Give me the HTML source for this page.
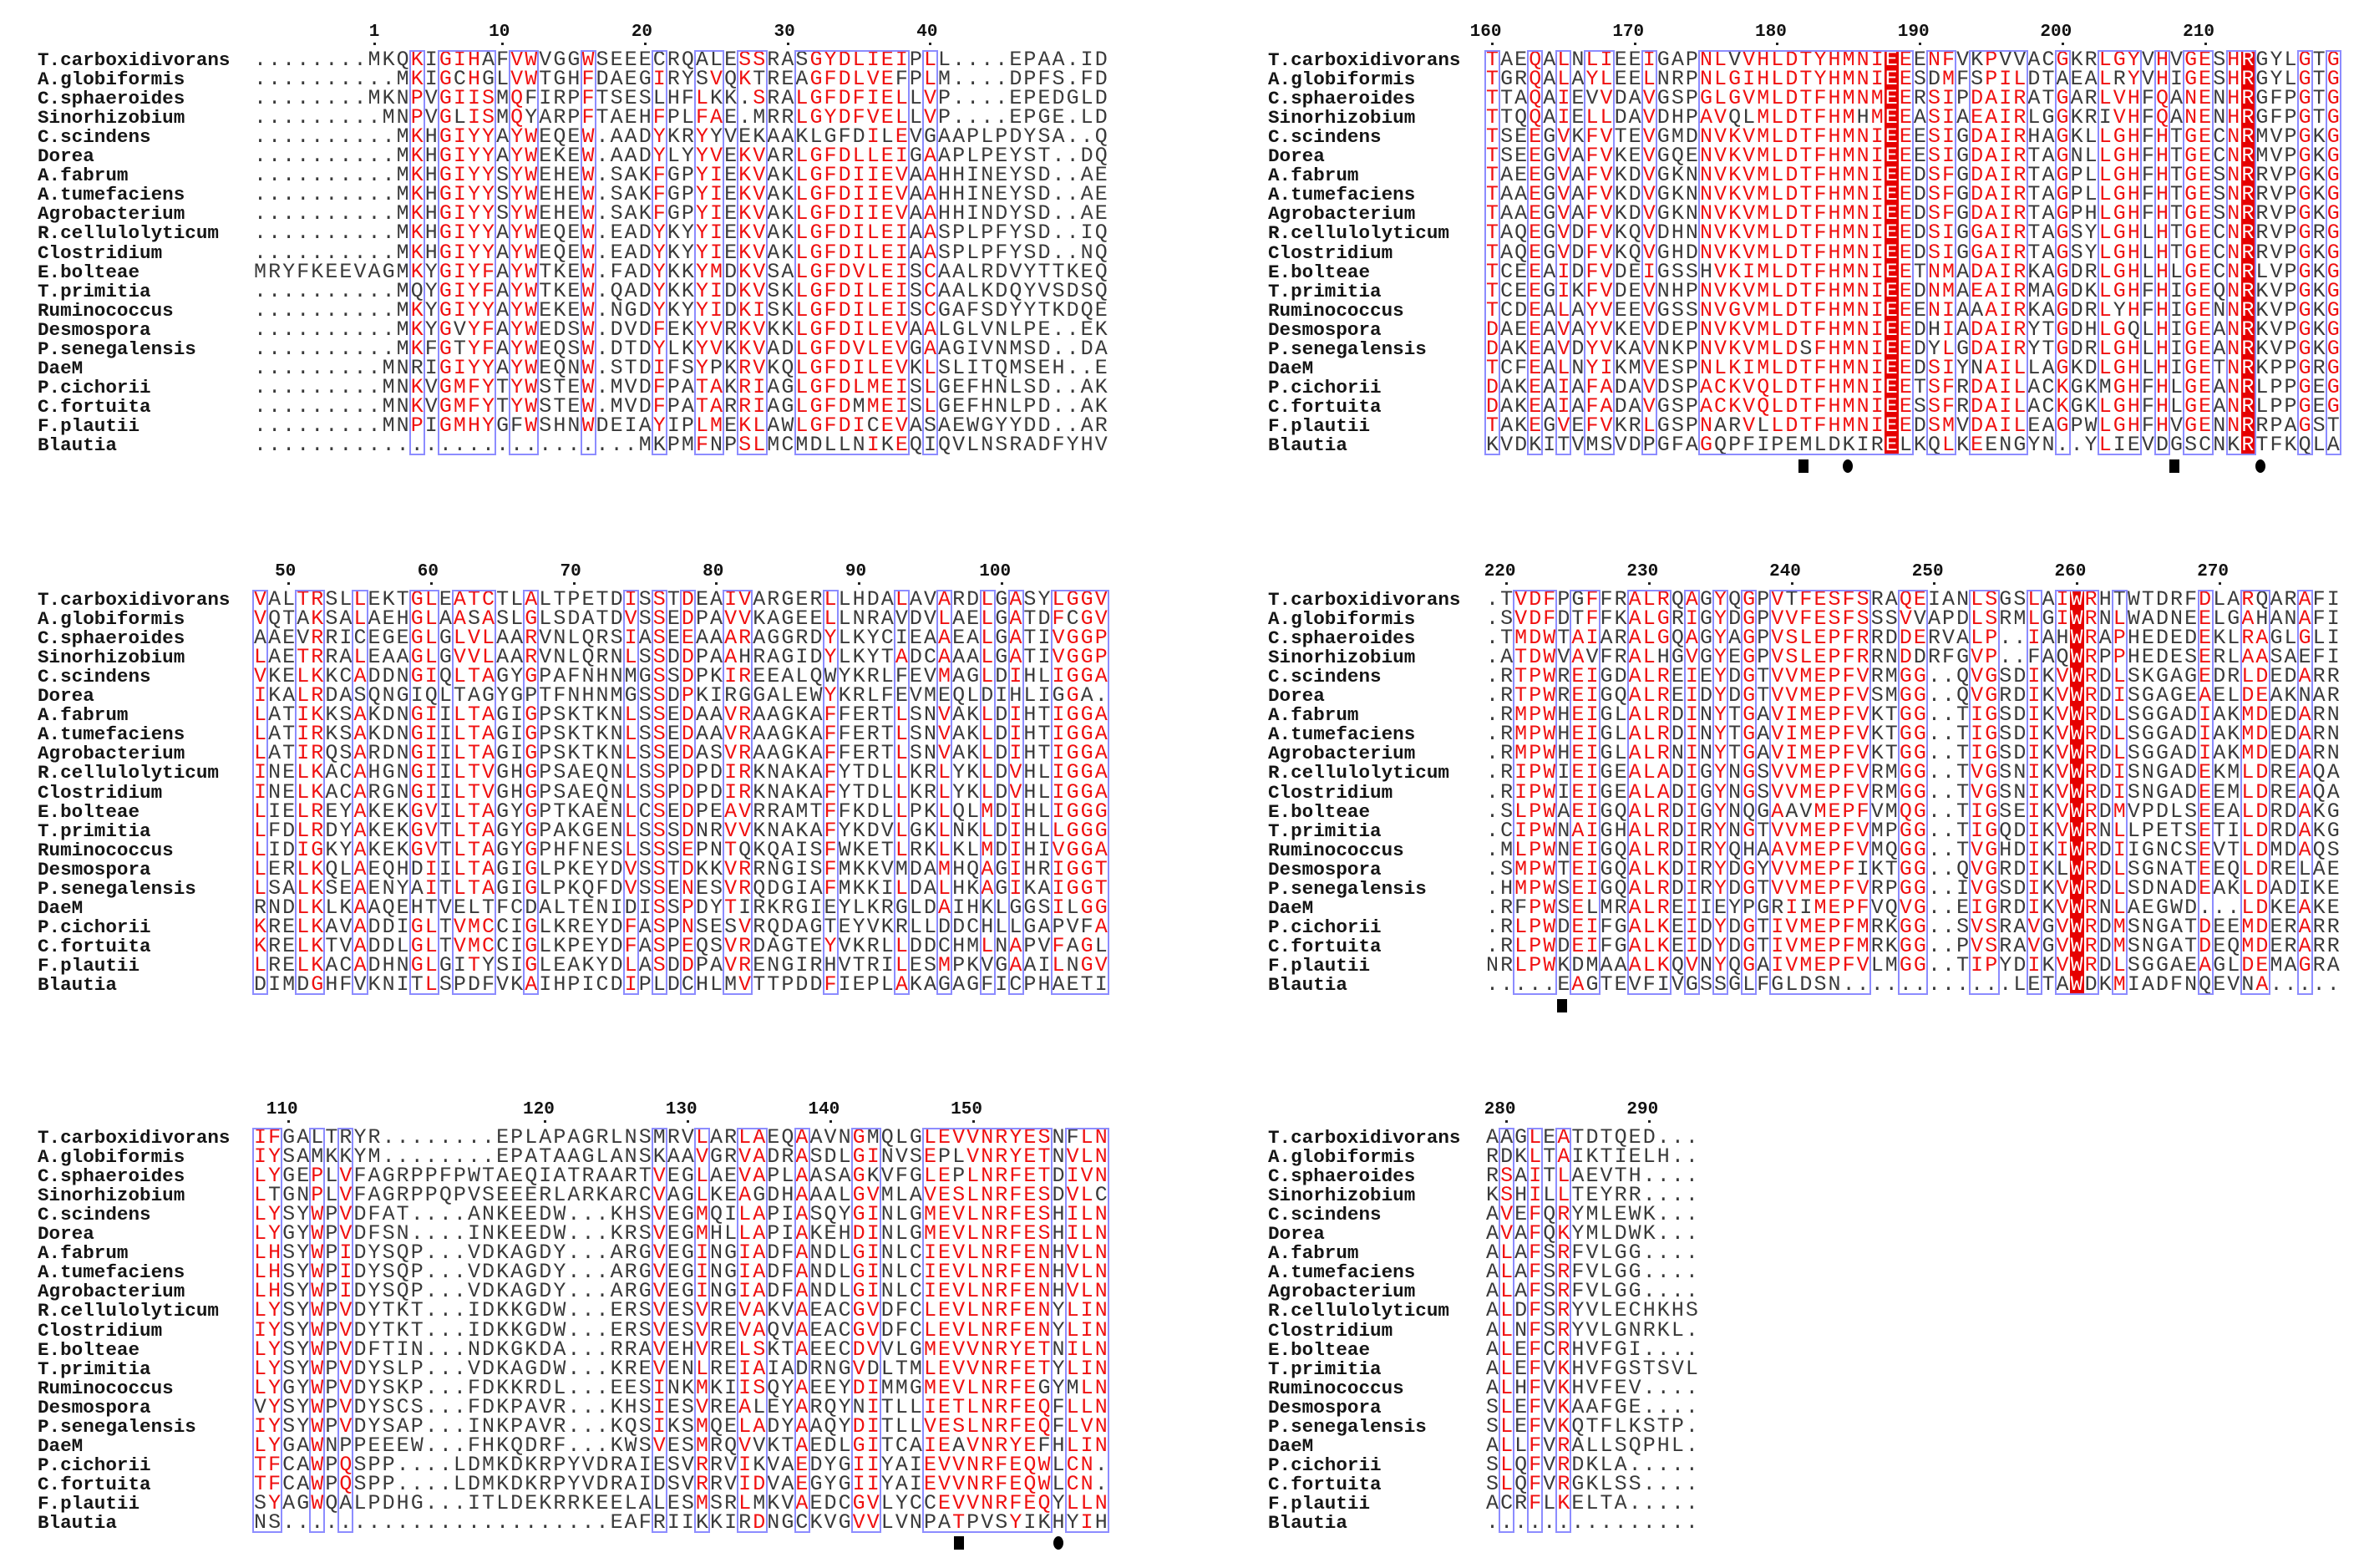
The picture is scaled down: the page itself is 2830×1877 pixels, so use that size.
<!DOCTYPE html>
<html><head><meta charset="utf-8">
<style>
html,body{margin:0;padding:0;background:#fff;}
#root{position:relative;width:2830px;height:1877px;overflow:hidden;background:#fff;}
.nm{position:absolute;font-family:"Liberation Mono",monospace;font-weight:bold;font-size:22.6px;line-height:24px;color:#151515;white-space:pre;}
.sq{position:absolute;font-family:"Liberation Mono",monospace;font-size:25px;line-height:24px;white-space:pre;color:#3a3a3a;}
.sq span{display:inline-block;width:17.07px;text-align:center;}
.rl{position:absolute;font-family:"Liberation Mono",monospace;font-weight:bold;font-size:21px;line-height:22px;color:#111;}
.box{position:absolute;border:2px solid #8c8cff;box-sizing:border-box;}
.fill{position:absolute;background:#e60000;}
.mk{position:absolute;background:#000;}
</style></head>
<body>
<div id="root"></div>
<script>
const names=["T.carboxidivorans","A.globiformis","C.sphaeroides","Sinorhizobium","C.scindens","Dorea","A.fabrum","A.tumefaciens","Agrobacterium","R.cellulolyticum","Clostridium","E.bolteae","T.primitia","Ruminococcus","Desmospora","P.senegalensis","DaeM","P.cichorii","C.fortuita","F.plautii","Blautia"];

const seqBlock1=[
"........MKQKIGIHAFVWVGGWSEEECRQALESSRASGYDLIEIPLL....EPAA.ID",
"..........MKIGCHGLVWTGHFDAEGIRYSVQKTREAGFDLVEFPLM....DPFS.FD",
"........MKNPVGIISMQFIRPFTSESLHFLKK.SRALGFDFIELLVP....EPEDGLD",
".........MNPVGLISMQYARPFTAEHFPLFAE.MRRLGYDFVELLVP....EPGE.LD",
"..........MKHGIYYAYWEQEW.AADYKRYYVEKAAKLGFDILEVGAAPLPDYSA..QE",
"..........MKHGIYYAYWEKEW.AADYLYYVEKVARLGFDLLEIGAAPLPEYST..DQ",
"..........MKHGIYYSYWEHEW.SAKFGPYIEKVAKLGFDIIEVAAHHINEYSD..AE",
"..........MKHGIYYSYWEHEW.SAKFGPYIEKVAKLGFDIIEVAAHHINEYSD..AE",
"..........MKHGIYYSYWEHEW.SAKFGPYIEKVAKLGFDIIEVAAHHINDYSD..AE",
"..........MKHGIYYAYWEQEW.EADYKYYIEKVAKLGFDILEIAASPLPFYSD..IQ",
"..........MKHGIYYAYWEQEW.EADYKYYIEKVAKLGFDILEIAASPLPFYSD..NQ",
"MRYFKEEVAGMKYGIYFAYWTKEW.FADYKKYMDKVSALGFDVLEISCAALRDVYTTKEQ",
"..........MQYGIYFAYWTKEW.QADYKKYIDKVSKLGFDILEISCAALKDQYVSDSQ",
"..........MKYGIYYAYWEKEW.NGDYKYYIDKISKLGFDILEISCGAFSDYYTKDQE",
"..........MKYGVYFAYWEDSW.DVDFEKYVRKVKKLGFDILEVAALGLVNLPE..EK",
"..........MKFGTYFAYWEQSW.DTDYLKYVKKVADLGFDVLEVGAAGIVNMSD..DA",
".........MNRIGIYYAYWEQNW.STDIFSYPKRVKQLGFDILEVKLSLITQMSEH..E",
".........MNKVGMFYTYWSTEW.MVDFPATAKRIAGLGFDLMEISLGEFHNLSD..AK",
".........MNKVGMFYTYWSTEW.MVDFPATARRIAGLGFDMMEISLGEFHNLPD..AK",
".........MNPIGMHYGFWSHNWDEIAYIPLMEKLAWLGFDICEVASAEWGYYDD..AR",
"...........................MKPMFNPSLMCMDLLNIKEQIQVLNSRADFYHV"];

const seqBlock2=[
"TAEQALNLIEEIGAPNLVVHLDTYHMNIEEENFVKPVVACGKRLGYVHVGESHRGYLGTG",
"TGRQALAYLEELNRPNLGIHLDTYHMNIEESDMFSPILDTAEALRYVHIGESHRGYLGTG",
"TTAQAIEVVDAVGSPGLGVMLDTFHMNMEERSIPDAIRATGARLVHFQANENHRGFPGTG",
"TTQQAIELLDAVDHPAVQLMLDTFHMHMEEASIAEAIRLGGKRIVHFQANENHRGFPGTG",
"TSEEGVKFVTEVGMDNVKVMLDTFHMNIEEESIGDAIRHAGKLLGHFHTGECNRMVPGKG",
"TSEEGVAFVKEVGQENVKVMLDTFHMNIEEESIGDAIRTAGNLLGHFHTGECNRMVPGKG",
"TAEEGVAFVKDVGKNNVKVMLDTFHMNIEEDSFGDAIRTAGPLLGHFHTGESNRRVPGKG",
"TAAEGVAFVKDVGKNNVKVMLDTFHMNIEEDSFGDAIRTAGPLLGHFHTGESNRRVPGKG",
"TAAEGVAFVKDVGKNNVKVMLDTFHMNIEEDSFGDAIRTAGPHLGHFHTGESNRRVPGKG",
"TAQEGVDFVKQVDHNNVKVMLDTFHMNIEEDSIGGAIRTAGSYLGHLHTGECNRRVPGRG",
"TAQEGVDFVKQVGHDNVKVMLDTFHMNIEEDSIGGAIRTAGSYLGHLHTGECNRRVPGKG",
"TCEEAIDFVDEIGSSHVKIMLDTFHMNIEETNMADAIRKAGDRLGHLHLGECNRLVPGKG",
"TCEEGIKFVDEVNHPNVKVMLDTFHMNIEEDNMAEAIRMAGDKLGHFHIGEQNRKVPGKG",
"TCDEALAYVEEVGSSNVGVMLDTFHMNIEEENIAAAIRKAGDRLYHFHIGENNRKVPGKG",
"DAEEAVAYVKEVDEPNVKVMLDTFHMNIEEDHIADAIRYTGDHLGQLHIGEANRKVPGKG",
"DAKEAVDYVKAVNKPNVKVMLDSFHMNIEEDYLGDAIRYTGDRLGHLHIGEANRKVPGKG",
"TCFEALNYIKMVESPNLKIMLDTFHMNIEEDSIYNAILLAGKDLGHLHIGETNRKPPGRG",
"DAKEAIAFADAVDSPACKVQLDTFHMNIEETSFRDAILACKGKMGHFHLGEANRLPPGEG",
"DAKEAIAFADAVGSPACKVQLDTFHMNIEESSFRDAILACKGKLGHFHLGEANRLPPGEG",
"TAKEGVEFVKRLGSPNARVLLDTFHMNIEEDSMVDAILEAGPWLGHFHVGENNRRPAGST",
"KVDKITVMSVDPGFAGQPFIPEMLDKIRELKQLKEENGYN..YLIEVDGSCNKRTFKQLA"];

const seqBlock3=[
"VALTRSLLEKTGLEATCTLALTPETDISSTDEAIVARGERLLHDALAVARDLGASYLGGV",
"VQTAKSALAEHGLAASASLGLSDATDVSSEDPAVVKAGEELLNRAVDVLAELGATDFCGV",
"AAEVRRICEGEGLGLVLAARVNLQRSIASEEAAARAGGRDYLKYCIEAAEALGATIVGGP",
"LAETRRALEAAGLGVVLAARVNLQRNLSSDDPAAHRAGIDYLKYTADCAAALGATIVGGP",
"VKELKKCADDNGIQLTAGYGPAFNHNMGSSDPKIREEALQWYKRLFEVMAGLDIHLIGGA",
"IKALRDASQNGIQLTAGYGPTFNHNMGSSDPKIRGGALEWYKRLFEVMEQLDIHLIGGA.",
"LATIKKSAKDNGIILTAGIGPSKTKNLSSEDAAVRAAGKAFFERTLSNVAKLDIHTIGGA",
"LATIRKSAKDNGIILTAGIGPSKTKNLSSEDAAVRAAGKAFFERTLSNVAKLDIHTIGGA",
"LATIRQSARDNGIILTAGIGPSKTKNLSSEDASVRAAGKAFFERTLSNVAKLDIHTIGGA",
"INELKACAHGNGIILTVGHGPSAEQNLSSPDPDIRKNAKAFYTDLLKRLYKLDVHLIGGA",
"INELKACARGNGIILTVGHGPSAEQNLSSPDPDIRKNAKAFYTDLLKRLYKLDVHLIGGA",
"LIELREYAKEKGVILTAGYGPTKAENLCSEDPEAVRRAMTFFKDLLPKLQLMDIHLIGGG",
"LFDLRDYAKEKGVTLTAGYGPAKGENLSSSDNRVVKNAKAFYKDVLGKLNKLDIHLLGGG",
"LIDIGKYAKEKGVTLTAGYGPHFNESLSSSEPNTQKQAISFWKETLRKLKLMDIHIVGGA",
"LERLKQLAEQHDIILTAGIGLPKEYDVSSTDKKVRRNGISFMKKVMDAMHQAGIHRIGGT",
"LSALKSEAENYAITLTAGIGLPKQFDVSSENESVRQDGIAFMKKILDALHKAGIKAIGGT",
"RNDLKLKAAQEHTVELTFCDALTENIDISSPDYTIRKRGIEYLKRGLDAIHKLGGSILGGV",
"KRELKAVADDIGLTVMCCIGLKREYDFASPNSESVRQDAGTEYVKRLLDDCHLLGAPVFAGL",
"KRELKTVADDLGLTVMCCIGLKPEYDFASPEQSVRDAGTEYVKRLLDDCHMLNAPVFAGL",
"LRELKACADHNGLGITYSIGLEAKYDLASDDPAVRENGIRHVTRILESMPKVGAAILNGV",
"DIMDGHFVKNITLSPDFVKAIHPICDIPLDCHLMVTTPDDFIEPLAKAGAGFICPHAETI"];

const seqBlock4=[
".TVDFPGFFRALRQAGYQGPVTFESFSRAQEIANLSGSLAIWRHTWTDRFDLARQARAFI",
".SVDFDTFFKALGRIGYDGPVVFESFSSSVVAPDLSRMLGIWRNLWADNEELGAHANAFI",
".TMDWTAIARALGQAGYAGPVSLEPFRRDDERVALP..IAHWRAPHEDEDEKLRAGLGLI",
".ATDWVAVFRALHGVGYEGPVSLEPFRRNDDRFGVP..FAQWRPPHEDESERLAASAEFI",
".RTPWREIGDALREIEYDGTVVMEPFVRMGG..QVGSDIKVWRDLSKGAGEDRLDEDARR",
".RTPWREIGQALREIDYDGTVVMEPFVSMGG..QVGRDIKVWRDISGAGEAELDEAKNAR",
".RMPWHEIGLALRDINYTGAVIMEPFVKTGG..TIGSDIKVWRDLSGGADIAKMDEDARN",
".RMPWHEIGLALRDINYTGAVIMEPFVKTGG..TIGSDIKVWRDLSGGADIAKMDEDARN",
".RMPWHEIGLALRNINYTGAVIMEPFVKTGG..TIGSDIKVWRDLSGGADIAKMDEDARN",
".RIPWIEIGEALADIGYNGSVVMEPFVRMGG..TVGSNIKVWRDISNGADEKMLDREAQA",
".RIPWIEIGEALADIGYNGSVVMEPFVRMGG..TVGSNIKVWRDISNGADEEMLDREAQA",
".SLPWAEIGQALRDIGYNQGAAVMEPFVMQG..TIGSEIKVWRDMVPDLSEEALDRDAKG",
".CIPWNAIGHALRDIRYNGTVVMEPFVMPGG..TIGQDIKVWRNLLPETSETILDRDAKG",
".MLPWNEIGQALRDIRYQHAAVMEPFVMQGG..TVGHDIKIWRDIIGNCSEVTLDMDAQS",
".SMPWTEIGQALKDIRYDGYVVMEPFIKTGG..QVGRDIKLWRDLSGNATEEQLDRELAE",
".HMPWSEIGQALRDIRYDGTVVMEPFVRPGG..IVGSDIKVWRDLSDNADEAKLDADIKE",
".RFPWSELMRALREIIEYPGRIIMEPFVQVG..EIGRDIKVWRNLAEGWD...LDKEAKE",
".RLPWDEIFGALKEIDYDGTIVMEPFMRKGG..SVSRAVGVWRDMSNGATDEEMDERARR",
".RLPWDEIFGALKEIDYDGTIVMEPFMRKGG..PVSRAVGVWRDMSNGATDEQMDERARR",
"NRLPWKDMAAALKQVNYQGAIVMEPFVLMGG..TIPYDIKVWRDLSGGAEAGLDEMAGRA",
".....EAGTEVFIVGSSGLFGLDSN............LETAWDKMIADFNQEVNA....."];

const seqBlock5=[
"IFGALTRYR........EPLAPAGRLNSMRVLARLAEQAAVNGMQLGLEVVNRYESNFLN",
"IYSAMKKYM........EPATAAGLANSKAAVGRVADRASDLGINVSEPLVNRYETNVLN",
"LYGEPLVFAGRPPFPWTAEQIATRAARTVEGLAEVAPLAASAGKVFGLEPLNRFETDIVN",
"LTGNPLVFAGRPPQPVSEEERLARKARCVAGLKEAGDHAAALGVMLAVESLNRFESDVLC",
"LYSYWPVDFAT....ANKEEDW...KHSVEGMQILAPIASQYGINLGMEVLNRFESHILN",
"LYGYWPVDFSN....INKEEDW...KRSVEGMHLLAPIAKEHDINLGMEVLNRFESHILN",
"LHSYWPIDYSQP...VDKAGDY...ARGVEGINGIADFANDLGINLCIEVLNRFENHVLN",
"LHSYWPIDYSQP...VDKAGDY...ARGVEGINGIADFANDLGINLCIEVLNRFENHVLN",
"LHSYWPIDYSQP...VDKAGDY...ARGVEGINGIADFANDLGINLCIEVLNRFENHVLN",
"LYSYWPVDYTKT...IDKKGDW...ERSVESVREVAKVAEACGVDFCLEVLNRFENYLIN",
"IYSYWPVDYTKT...IDKKGDW...ERSVESVREVAQVAEACGVDFCLEVLNRFENYLIN",
"LYSYWPVDFTIN...NDKGKDA...RRAVEHVRELSKTAEECDVVLGMEVVNRYETNILN",
"LYSYWPVDYSLP...VDKAGDW...KREVENLREIAIADRNGVDLTMLEVVNRFETYLIN",
"LYGYWPVDYSKP...FDKKRDL...EESINKMKIISQYAEEYDIMMGMEVLNRFEGYMLN",
"VYSYWPVDYSCS...FDKPAVR...KHSIESVREALEYARQYNITLLIETLNRFEQFLLN",
"IYSYWPVDYSAP...INKPAVR...KQSIKSMQELADYAAQYDITLLVESLNRFEQFLVN",
"LYGAWNPPEEEW...FHKQDRF...KWSVESMRQVVKTAEDLGITCAIEAVNRYEFHLIN",
"TFCAWPQSPP....LDMKDKRPYVDRAIESVRRVIKVAEDYGIIYAIEVVNRFEQWLCN",
"TFCAWPQSPP....LDMKDKRPYVDRAIDSVRRVIDVAEGYGIIYAIEVVNRFEQWLCN",
"SYAGWQALPDHG...ITLDEKRRKEELALESMSRLMKVAEDCGVLYCCEVVNRFEQYLLN",
"NS.......................EAFRIIKKIRDNGCKVGVVLVNPATPVSYIKHYIH"];

const seqBlock6=[
"AAGLEATDTQED...","RDKLTAIKTIELH..","RSAITLAEVTH....","KSHILLTEYRR....",
"AVEFQRYMLEWK...","AVAFQKYMLDWK...","ALAFSRFVLGG....","ALAFSRFVLGG....",
"ALAFSRFVLGG....","ALDFSRYVLECHKHS","ALNFSRYVLGNRKL.","ALEFCRHVFGI....",
"ALEFVKHVFGSTSVL","ALHFVKHVFEV....","SLEFVKAAFGE....","SLEFVKQTFLKSTP.",
"ALLFVRALLSQPHL.","SLQFVRDKLA.....","SLQFVRGKLSS....","ACRFLKELTA.....",
"..............."];

const rulerLabels1=[1,10,20,30,40];        const rulerCols1=[8,17,27,37,47];
const rulerLabels2=[160,170,180,190,200,210]; const rulerCols2=[0,10,20,30,40,50];
const rulerLabels3=[50,60,70,80,90,100];   const rulerCols3=[2,12,22,32,42,52];
const rulerLabels4=[220,230,240,250,260,270]; const rulerCols4=[1,11,21,31,41,51];
const rulerLabels5=[110,120,130,140,150];  const rulerCols5=[2,20,30,40,50];
const rulerLabels6=[280,290];              const rulerCols6=[1,11];

const boxes1=[[11,11],[13,16],[18,19],[23,23],[28,28],[31,32],[34,35],[38,45],[47,47]];
const boxes2=[[0,0],[3,3],[5,5],[7,8],[11,11],[15,29],[31,32],[34,37],[40,40],[43,45],[47,47],[49,50],[52,53],[57,57],[59,59]];
const boxes3=[[0,0],[3,4],[7,7],[11,12],[14,16],[19,19],[26,26],[28,28],[30,30],[33,34],[40,40],[45,45],[48,48],[51,51],[53,53],[56,59]];
const boxes4=[[2,4],[6,7],[10,12],[14,14],[16,16],[18,18],[20,26],[29,30],[34,35],[38,38],[40,42],[44,44],[50,50],[53,54],[57,57]];
const boxes5=[[0,1],[4,4],[6,6],[28,28],[31,31],[34,35],[38,38],[42,43],[47,55],[57,59]];
const boxes6=[[1,1],[3,3],[5,5]];
const filled2=[28,53];
const filled4=[41];

const CW=17.07, STEP=23.05;
const root=document.getElementById('root');

function drawBlock(nameX,seqX,y0,seqs,boxes,filled,rLabels,rCols,blockName,len){
  const blk=document.createElement('div');
  
  
  root.appendChild(blk);
  const nRows=seqs.length;
  const top=y0-12, bottom=y0+(nRows-1)*STEP+12;
  filled.forEach(c=>{
    const f=document.createElement('div');
    f.className='fill';
    
    
    f.style.left=(seqX+c*CW)+'px';f.style.top=top+'px';
    f.style.width=CW+'px';f.style.height=(bottom-top)+'px';
    blk.appendChild(f);
  });
  const boxed=new Set();
  boxes.forEach(b=>{for(let c=b[0];c<=b[1];c++)boxed.add(c);});
  const fillSet=new Set(filled);
  const rows=seqs.map(s=>(s+'.'.repeat(len)).slice(0,len));
  const counts=[];
  for(let c=0;c<len;c++){const m={};rows.forEach(r=>{const ch=r[c];m[ch]=(m[ch]||0)+1;});counts.push(m);}
  rows.forEach((r,i)=>{
    const y=y0+i*STEP;
    const nm=document.createElement('div');
    nm.className='nm';
    
    
    nm.style.left=nameX+'px';nm.style.top=(y-12)+'px';
    nm.textContent=names[i];
    blk.appendChild(nm);
    const sq=document.createElement('div');
    sq.className='sq';
    
    
    sq.style.left=seqX+'px';sq.style.top=(y-12)+'px';
    let html='';
    for(let c=0;c<len;c++){
      const ch=r[c];let col='';
      if(fillSet.has(c)) col='#fff';
      else if(boxed.has(c)&&ch!=='.'&&counts[c][ch]>=2) col='#f01010';
      html+='<span'+(col?' style="color:'+col+'"':'')+'>'+ch+'</span>';
    }
    sq.innerHTML=html;
    blk.appendChild(sq);
  });
  boxes.forEach(b=>{
    const bx=document.createElement('div');
    bx.className='box';
    
    
    bx.style.left=(seqX+b[0]*CW-1)+'px';bx.style.top=top+'px';
    bx.style.width=((b[1]-b[0]+1)*CW+2)+'px';bx.style.height=(bottom-top)+'px';
    blk.appendChild(bx);
  });
  rLabels.forEach((lab,k)=>{
    const c=rCols[k];const cx=seqX+(c+0.5)*CW;
    const t=document.createElement('div');
    t.className='rl';
    
    
    const s=String(lab);const w=s.length*12.6;
    t.style.left=(cx-w/2-(s.length-1)*4)+'px';t.style.top=(y0-44)+'px';
    t.textContent=s;blk.appendChild(t);
    const d=document.createElement('div');
    
    
    d.style.cssText='position:absolute;width:3px;height:3px;background:#222;left:'+(cx-1.5)+'px;top:'+(y0-21)+'px;';
    blk.appendChild(d);
  });
}

drawBlock(45,303,72,seqBlock1,boxes1,[],rulerLabels1,rulerCols1,'alignment-block-1',60);
drawBlock(1518,1778,72,seqBlock2,boxes2,filled2,rulerLabels2,rulerCols2,'alignment-block-2',60);
drawBlock(45,303,718,seqBlock3,boxes3,[],rulerLabels3,rulerCols3,'alignment-block-3',60);
drawBlock(1518,1778,718,seqBlock4,boxes4,filled4,rulerLabels4,rulerCols4,'alignment-block-4',60);
drawBlock(45,303,1362,seqBlock5,boxes5,[],rulerLabels5,rulerCols5,'alignment-block-5',60);
drawBlock(1518,1778,1362,seqBlock6,boxes6,[],rulerLabels6,rulerCols6,'alignment-block-6',15);

const markerX=[2159,2212,2603,2706,1870,1148,1267];
const markerY=[558,558,558,558,1204,1847,1847];
const markerType=['sq','ci','sq','ci','sq','sq','ci'];
markerType.forEach((t,i)=>{
  const m=document.createElement('div');
  m.className='mk';
  
  
  m.style.left=(markerX[i]-6)+'px';m.style.top=(markerY[i]-8)+'px';
  m.style.width='12px';m.style.height='16px';
  if(t==='ci')m.style.borderRadius='50%';
  root.appendChild(m);
});
</script>
</body></html>
